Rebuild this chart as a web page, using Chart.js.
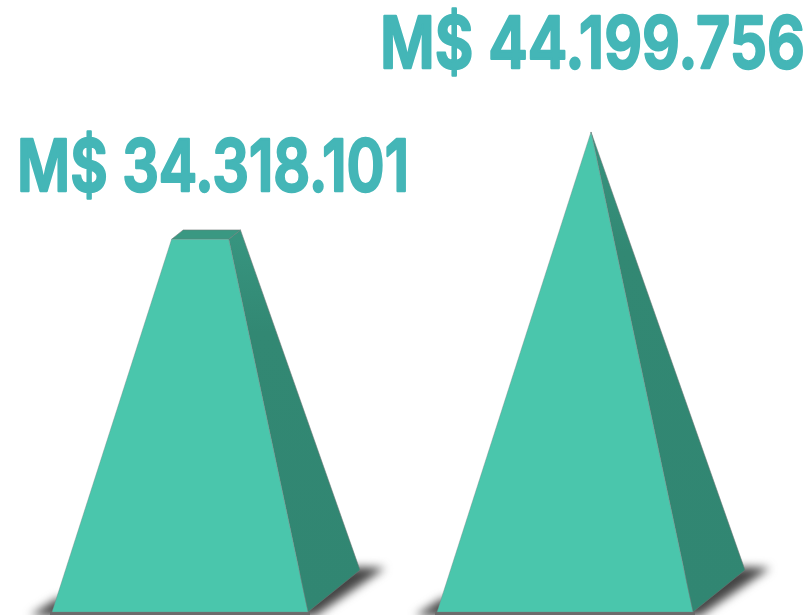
<!DOCTYPE html>
<html>
<head>
<meta charset="utf-8">
<style>html,body{margin:0;padding:0;background:#fff}#w{width:811px;height:615px}canvas{display:block}</style>
<script src="https://cdn.jsdelivr.net/npm/chart.js@4"></script>
</head>
<body>
<div id="w"><canvas id="c"></canvas></div>
<script>
const categories = ["A", "B"];
const values = [34318101, 44199756];
const labelPrefix = "M$ ";

function fmt(v){ return labelPrefix + String(v).replace(/\B(?=(\d{3})+$)/g, "."); }

const pyramidPlugin = {
  id: "pyramid",
  afterDatasetsDraw(chart, args, o) {
    const ctx = chart.ctx;
    const meta = chart.getDatasetMeta(0);
    const yScale = chart.scales.y;
    const apexY = yScale.getPixelForValue(Math.max(...values));
    meta.data.forEach((bar, i) => {
      const base = bar.base, top = bar.y;
      const left = bar.x - bar.width / 2, right = bar.x + bar.width / 2;
      const dx = bar.width * o.depthX, dy = bar.width * o.depthY;
      const fr = right - dx;
      const k = (top - apexY) / (base - apexY);
      const lerp = (a, b) => a + (b - a) * k;
      const tl = lerp(bar.x, left), tr = lerp(bar.x, fr);
      const tdx = dx * k, tdy = dy * k;

      // ground shadow
      ctx.save();
      ctx.filter = "blur(5px)";
      ctx.fillStyle = "#444";
      ctx.beginPath();
      ctx.moveTo(left - 22, base + 4);
      ctx.lineTo(left + 4, base - 13);
      ctx.lineTo(right, base - dy - 3);
      ctx.lineTo(right + 25, base - dy - 2);
      ctx.lineTo(fr + 7, base + 4);
      ctx.closePath();
      ctx.fill();
      ctx.restore();
      ctx.fillStyle = "#6b6b6b";
      ctx.fillRect(left - 2, base, fr - left + 4, 3);

      // side face
      const sg = ctx.createLinearGradient(0, top, 0, base);
      sg.addColorStop(0, "#37947f");
      sg.addColorStop(0.25, "#328873");
      sg.addColorStop(1, "#318672");
      ctx.fillStyle = sg;
      ctx.strokeStyle = "rgba(110,120,118,0.55)";
      ctx.lineWidth = 1;
      ctx.beginPath();
      ctx.moveTo(fr, base);
      ctx.lineTo(right, base - dy);
      ctx.lineTo(tr + tdx, top - tdy);
      ctx.lineTo(tr, top);
      ctx.closePath();
      ctx.fill();
      ctx.stroke();

      // top face
      if (k > 0.001) {
        ctx.fillStyle = "#3a9882";
        ctx.beginPath();
        ctx.moveTo(tl, top);
        ctx.lineTo(tl + tdx, top - tdy);
        ctx.lineTo(tr + tdx, top - tdy);
        ctx.lineTo(tr, top);
        ctx.closePath();
        ctx.fill();
        ctx.stroke();
      }

      // front face
      ctx.fillStyle = "#4ac6ac";
      ctx.beginPath();
      ctx.moveTo(left, base);
      ctx.lineTo(fr, base);
      ctx.lineTo(tr, top);
      ctx.lineTo(tl, top);
      ctx.closePath();
      ctx.fill();
      ctx.strokeStyle = "rgba(120,130,128,0.35)";
      ctx.stroke();

      // value label
      const g = o.labels[i];
      ctx.save();
      ctx.font = "600 72px Inter";
      ctx.textAlign = "center";
      ctx.textBaseline = "alphabetic";
      ctx.fillStyle = "#44b6b7";
      ctx.strokeStyle = "#44b6b7";
      ctx.lineJoin = "round";
      ctx.lineWidth = 2.5;
      const text = fmt(values[i]);
      const x = bar.x + g.dx, y = top - g.dy;
      ctx.fillText(text, x, y, g.w);
      ctx.strokeText(text, x, y, g.w);
      ctx.restore();
    });
  }
};

new Chart(document.getElementById("c"), {
  type: "bar",
  data: {
    labels: categories,
    datasets: [{ data: values, backgroundColor: "rgba(0,0,0,0)", borderWidth: 0, barPercentage: 0.8, categoryPercentage: 1 }]
  },
  options: {
    responsive: true,
    maintainAspectRatio: false,
    animation: false,
    layout: { padding: { left: 13.5, right: 27.5, top: 0, bottom: 3 } },
    scales: {
      x: { display: false },
      y: { display: false, min: 0, max: 56350000 }
    },
    plugins: {
      legend: { display: false },
      tooltip: { enabled: false },
      pyramid: {
        depthX: 0.169, depthY: 0.136,
        labels: [{ dx: 7, dy: 48, w: 392 }, { dx: 1.5, dy: 64, w: 425 }]
      }
    }
  },
  plugins: [pyramidPlugin]
});
</script>
</body>
</html>
